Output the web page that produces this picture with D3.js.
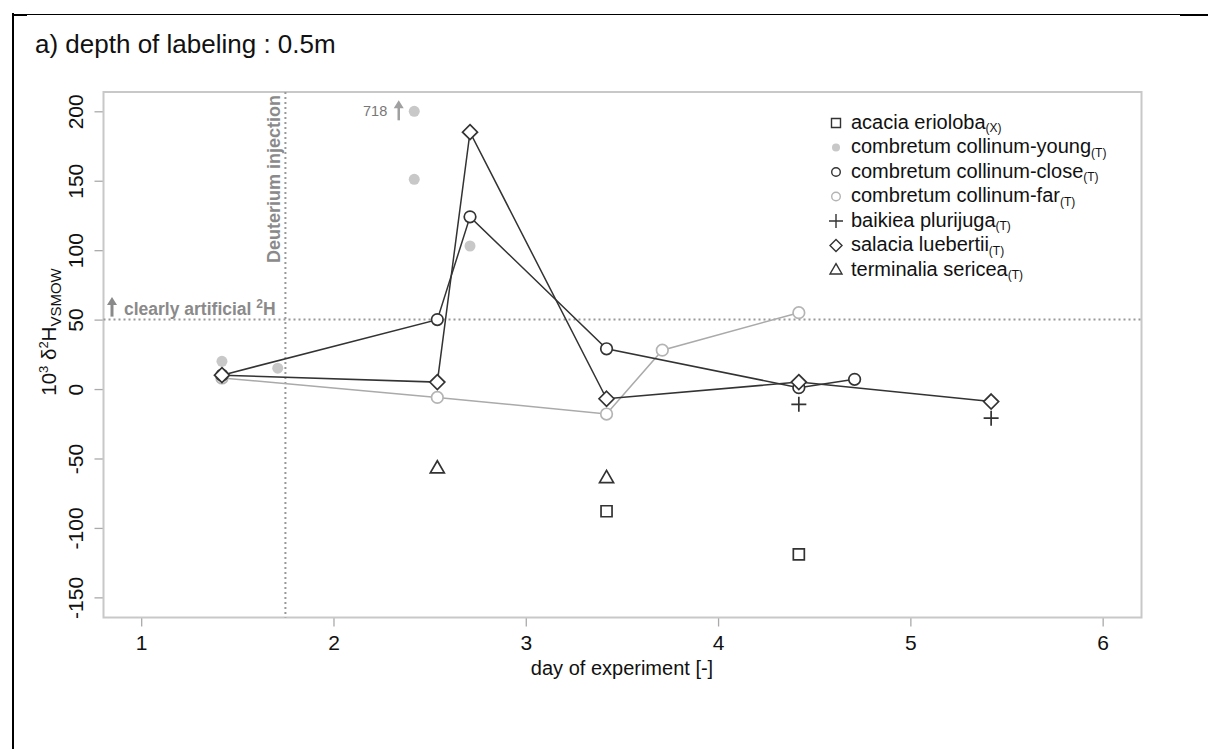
<!DOCTYPE html>
<html>
<head>
<meta charset="utf-8">
<script src="https://cdn.jsdelivr.net/npm/d3@7"></script>
<style>
  html, body { margin: 0; padding: 0; background: #fff; }
  svg { display: block; font-family: Arial, "Liberation Sans", sans-serif; }
</style>
</head>
<body>
<svg id="chart" width="1208" height="749"></svg>
<script>
// Day of sampling for each series and the measured 10^3 δ2H values
const acaciaDays = [3.42, 4.42];
const acaciaVals = [-88, -119];

const youngDays = [1.42, 1.71, 2.42, 2.42, 2.71];
const youngVals = [20, 15, 718, 151, 103];

const closeDays = [1.42, 2.54, 2.71, 3.42, 4.42, 4.71];
const closeVals = [10, 50, 124, 29, 1, 7];

const farDays = [1.42, 2.54, 3.42, 3.71, 4.42];
const farVals = [8, -6, -18, 28, 55];

const baikieaDays = [4.42, 5.42];
const baikieaVals = [-11, -21];

const salaciaDays = [1.42, 2.54, 2.71, 3.42, 4.42, 5.42];
const salaciaVals = [10, 5, 185, -7, 5, -9];

const terminaliaDays = [2.54, 3.42];
const terminaliaVals = [-57, -64];

const xTicks = [1, 2, 3, 4, 5, 6];
const yTicks = [-150, -100, -50, 0, 50, 100, 150, 200];

const injectionDay = 1.75;
const artificialThreshold = 50;
const yCeiling = 200; // larger values are drawn at the ceiling with an arrow

const DARK = "#333333";
const LIGHT = "#b4b4b4";
const YOUNG = "#c8c8c8";
const ANNOT = "#8a8a8a";

const series = [
  { name: "acacia erioloba", sub: "(X)", days: acaciaDays, vals: acaciaVals, shape: "square", color: DARK },
  { name: "combretum collinum-young", sub: "(T)", days: youngDays, vals: youngVals, shape: "dot", color: YOUNG },
  { name: "combretum collinum-close", sub: "(T)", days: closeDays, vals: closeVals, shape: "circle", color: DARK },
  { name: "combretum collinum-far", sub: "(T)", days: farDays, vals: farVals, shape: "circle", color: LIGHT },
  { name: "baikiea plurijuga", sub: "(T)", days: baikieaDays, vals: baikieaVals, shape: "plus", color: DARK },
  { name: "salacia luebertii", sub: "(T)", days: salaciaDays, vals: salaciaVals, shape: "diamond", color: DARK },
  { name: "terminalia sericea", sub: "(T)", days: terminaliaDays, vals: terminaliaVals, shape: "triangle", color: DARK }
];

const svg = d3.select("#chart");

// Panel frame
svg.append("line").attr("x1", 13).attr("x2", 13).attr("y1", 13).attr("y2", 749)
  .attr("stroke", "#000").attr("stroke-width", 2);
svg.append("line").attr("x1", 12).attr("x2", 1208).attr("y1", 14.5).attr("y2", 14.5)
  .attr("stroke", "#000").attr("stroke-width", 1);
svg.append("line").attr("x1", 12).attr("x2", 27).attr("y1", 15).attr("y2", 15)
  .attr("stroke", "#000").attr("stroke-width", 2);
svg.append("line").attr("x1", 1180).attr("x2", 1208).attr("y1", 15).attr("y2", 15)
  .attr("stroke", "#000").attr("stroke-width", 2);

svg.append("text").attr("x", 35).attr("y", 53)
  .attr("font-size", 26).attr("fill", "#111")
  .text("a) depth of labeling : 0.5m");

// Plot region
const pLeft = 103.5, pRight = 1141.5, pTop = 92, pBottom = 617.5;

const x = d3.scaleLinear().domain([0.804, 6.202]).range([pLeft, pRight]);
const y = d3.scaleLinear().domain([-164.5, 213.9]).range([pBottom, pTop]);

const tickFmt = d => String(d);

// Axes
const xAxis = d3.axisBottom(x).tickValues(xTicks).tickFormat(tickFmt).tickSizeOuter(0).tickSize(9).tickPadding(9);
const gx = svg.append("g").attr("transform", `translate(0,${pBottom})`).call(xAxis);
gx.select(".domain").remove();
gx.selectAll(".tick line").attr("stroke", "#aaa").attr("stroke-width", 1.3);
gx.selectAll(".tick text").attr("font-size", 21).attr("fill", "#111")
  .attr("font-family", "Arial, 'Liberation Sans', sans-serif");

const yAxis = d3.axisLeft(y).tickValues(yTicks).tickFormat(tickFmt).tickSizeOuter(0).tickSize(9).tickPadding(0);
const gy = svg.append("g").attr("transform", `translate(${pLeft},0)`).call(yAxis);
gy.select(".domain").remove();
gy.selectAll(".tick line").attr("stroke", "#aaa").attr("stroke-width", 1.3);
gy.selectAll(".tick text")
  .attr("font-size", 21).attr("fill", "#111")
  .attr("font-family", "Arial, 'Liberation Sans', sans-serif")
  .attr("x", null).attr("dy", null)
  .attr("text-anchor", "middle")
  .attr("transform", "translate(-20.5,0) rotate(-90)");

// Plot box
svg.append("rect").attr("x", pLeft).attr("y", pTop)
  .attr("width", pRight - pLeft).attr("height", pBottom - pTop)
  .attr("fill", "none").attr("stroke", "#c8c8c8").attr("stroke-width", 2);

// Axis titles
svg.append("text").attr("x", 622).attr("y", 675)
  .attr("text-anchor", "middle").attr("font-size", 20).attr("fill", "#111")
  .text("day of experiment [-]");

const yt = svg.append("text")
  .attr("transform", "translate(56,332) rotate(-90)")
  .attr("text-anchor", "middle").attr("font-size", 20.5).attr("fill", "#111");
yt.append("tspan").text("10");
yt.append("tspan").attr("font-size", 13).attr("dy", -8).text("3");
yt.append("tspan").attr("dy", 8).text(" δ");
yt.append("tspan").attr("font-size", 13).attr("dy", -8).text("2");
yt.append("tspan").attr("dy", 8).text("H");
yt.append("tspan").attr("font-size", 15).attr("dy", 5).text("VSMOW");

// Reference lines
svg.append("line")
  .attr("x1", pLeft).attr("x2", pRight)
  .attr("y1", y(artificialThreshold)).attr("y2", y(artificialThreshold))
  .attr("stroke", "#999").attr("stroke-width", 2).attr("stroke-dasharray", "2,3");
svg.append("line")
  .attr("x1", x(injectionDay)).attr("x2", x(injectionDay))
  .attr("y1", pTop).attr("y2", pBottom)
  .attr("stroke", "#999").attr("stroke-width", 2).attr("stroke-dasharray", "2,3");

svg.append("text")
  .attr("transform", `translate(${x(injectionDay) - 5},${pTop + 3}) rotate(-90)`)
  .attr("text-anchor", "end").attr("font-size", 18).attr("font-weight", "bold")
  .attr("fill", ANNOT).text("Deuterium injection");

// Up-arrow helper
function upArrow(cx, yBase, yTip, color, w) {
  const g = svg.append("g");
  g.append("line").attr("x1", cx).attr("x2", cx).attr("y1", yBase).attr("y2", yTip + 6)
    .attr("stroke", color).attr("stroke-width", w);
  g.append("path")
    .attr("d", `M${cx - 5},${yTip + 8} L${cx},${yTip} L${cx + 5},${yTip + 8} Z`)
    .attr("fill", color);
}

upArrow(112, y(artificialThreshold) - 3, 297, ANNOT, 3);
const ca = svg.append("text").attr("x", 124).attr("y", 315)
  .attr("font-size", 17.5).attr("font-weight", "bold").attr("fill", ANNOT);
ca.append("tspan").text("clearly artificial ");
ca.append("tspan").attr("font-size", 12).attr("dy", -7).text("2");
ca.append("tspan").attr("dy", 7).text("H");

// Symbol paths centred at the origin
function symbolPath(shape, s) {
  switch (shape) {
    case "square": return `M${-s},${-s}H${s}V${s}H${-s}Z`;
    case "diamond": return `M0,${-s}L${s},0L0,${s}L${-s},0Z`;
    case "triangle": { const h = s * 1.73; return `M0,${-h * 0.62}L${s},${h * 0.38}L${-s},${h * 0.38}Z`; }
    case "plus": return `M${-s},0H${s}M0,${-s}V${s}`;
    default: return "";
  }
}

function drawMark(g, shape, color, cx, cy, big) {
  if (shape === "dot") {
    g.append("circle").attr("cx", cx).attr("cy", cy).attr("r", big ? 5.5 : 4)
      .attr("fill", color).attr("stroke", "none");
  } else if (shape === "circle") {
    g.append("circle").attr("cx", cx).attr("cy", cy).attr("r", big ? 5.8 : 4.3)
      .attr("fill", "#fff").attr("stroke", color).attr("stroke-width", big ? 1.7 : 1.4);
  } else {
    const s = { square: big ? 5.5 : 4.5, diamond: big ? 7.5 : 6, triangle: big ? 7 : 6, plus: big ? 7.5 : 7 }[shape];
    g.append("path").attr("transform", `translate(${cx},${cy})`)
      .attr("d", symbolPath(shape, s))
      .attr("fill", shape === "plus" ? "none" : "#fff")
      .attr("stroke", color).attr("stroke-width", big ? 1.7 : 1.4);
  }
}

const shown = v => Math.min(v, yCeiling);

// Connecting lines first, then marks
const lineGen = d3.line().x(d => x(d[0])).y(d => y(shown(d[1])));
const linesG = svg.append("g");
const marksG = svg.append("g");

// light series line beneath the dark ones
[3, 2, 5].forEach(i => {
  const s = series[i];
  const pts = s.days.map((d, k) => [d, s.vals[k]]);
  linesG.append("path").attr("d", lineGen(pts))
    .attr("fill", "none").attr("stroke", s.color === LIGHT ? "#aaa" : DARK)
    .attr("stroke-width", 1.5);
});

[1, 3, 0, 6, 4, 2, 5].forEach(i => {
  const s = series[i];
  s.days.forEach((d, k) => {
    drawMark(marksG, s.shape, s.color, x(d), y(shown(s.vals[k])), true);
  });
});

// Off-scale annotation for the value above the ceiling
youngDays.forEach((d, k) => {
  const v = youngVals[k];
  if (v > yCeiling) {
    const cx = x(d), cy = y(yCeiling);
    upArrow(cx - 15.5, cy + 9, cy - 11, "#a0a0a0", 2.5);
    svg.append("text").attr("x", cx - 27).attr("y", cy + 5)
      .attr("text-anchor", "end").attr("font-size", 14.5).attr("fill", "#777")
      .text(v);
  }
});

// Legend
const lg = svg.append("g");
const lx = 836, ly0 = 123, ldy = 24.5;
series.forEach((s, i) => {
  const yy = ly0 + i * ldy;
  drawMark(lg, s.shape, s.color, lx, yy, false);
  const t = lg.append("text").attr("x", lx + 15).attr("y", yy + 5.5)
    .attr("font-size", 20).attr("fill", "#111");
  t.append("tspan").text(s.name);
  t.append("tspan").attr("font-size", 12).attr("dy", 3.5).text(s.sub);
});
</script>
</body>
</html>
